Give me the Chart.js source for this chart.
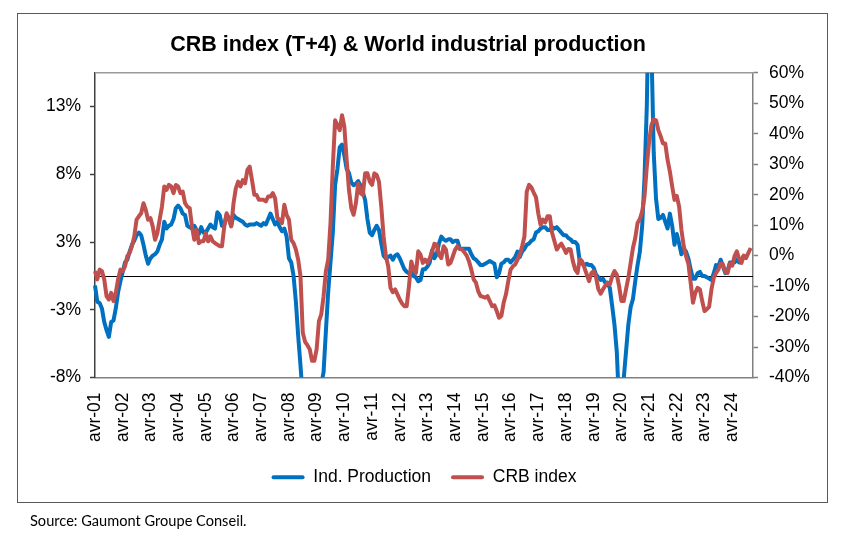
<!DOCTYPE html>
<html>
<head>
<meta charset="utf-8">
<script src="https://cdn.jsdelivr.net/npm/chart.js@4.4.1/dist/chart.umd.min.js"></script>
<style>
  html, body { margin: 0; padding: 0; background: #fff; }
  #wrap { position: relative; width: 864px; height: 539px; overflow: hidden; }
  #chart { position: absolute; left: 0; top: 0; }
  #frame { position: absolute; left: 17px; top: 13px; width: 811px; height: 490px;
           border: 1.5px solid #595959; box-sizing: border-box; pointer-events: none; }
  #source { position: absolute; left: 30px; top: 512px; font: 14.6px Lato, "Open Sans", sans-serif; color: #000; }
</style>
</head>
<body>
<div id="wrap">
  <canvas id="chart" width="864" height="539"></canvas>
  <div id="frame"></div>
  <div id="source">Source: Gaumont Groupe Conseil.</div>
</div>
<script>
// monthly categories, first month avr-01
const monthNames = ["janv", "févr", "mars", "avr", "mai", "juin", "juil", "août", "sept", "oct", "nov", "déc"];
const startYear = 2001, startMonth = 3, monthCount = 286;

// World industrial production, y/y % (left axis)
const indProduction = [
  -0.7, -1.9, -2.0, -2.4, -3.4, -4.0, -4.5, -3.4, -3.3, -2.4, -1.2, -0.4,
  0.3, 1.0, 1.2, 1.8, 2.3, 2.6, 3.0, 3.2, 3.0, 2.3, 1.5, 0.9,
  1.3, 1.5, 1.6, 1.8, 2.3, 2.7, 4.0, 3.5, 3.7, 3.8, 4.2, 5.0,
  5.2, 5.0, 4.6, 4.5, 3.7, 3.6, 3.5, 3.7, 3.4, 3.1, 3.6, 3.2,
  3.2, 3.5, 3.8, 3.6, 3.5, 4.7, 4.5, 3.7, 3.8, 4.5, 4.2, 3.7,
  4.5, 4.3, 4.2, 4.1, 4.0, 3.8, 3.7, 3.8, 3.8, 3.8, 3.9, 3.8,
  3.7, 3.9, 3.8, 4.2, 4.6, 4.2, 3.8, 4.0, 3.6, 3.3, 3.5, 2.9,
  1.3, 1.0, 0.0, -1.9, -4.4, -6.6, -9.0, -11.0, -13.0, -14.0, -13.0, -11.0,
  -9.5, -8.5, -8.0, -7.1, -4.1, -1.2, 1.0, 3.2, 6.7, 7.9, 9.5, 9.7,
  8.9, 7.9, 7.6, 6.9, 6.7, 6.8, 7.0, 6.7, 6.2, 5.6, 4.2, 3.2,
  3.0, 3.4, 3.7, 3.4, 2.4, 1.5, 1.3, 1.4, 1.5, 1.2, 1.5, 1.6,
  1.3, 0.9, 0.5, 0.3, 0.2, 0.3, 0.0, -0.1, -0.4, -0.3, 0.5, 0.5,
  0.7, 1.0, 1.9, 1.3, 1.6, 2.4, 2.9, 2.7, 2.6, 2.7, 2.7, 2.5,
  2.6, 2.6, 2.0, 2.0, 2.0, 2.0, 2.0, 1.6, 1.3, 1.2, 1.0, 0.8,
  0.8, 0.9, 1.0, 1.1, 1.0, 0.9, -0.1, 0.2, 0.9, 1.0, 1.2, 1.2,
  1.0, 1.2, 1.4, 1.8, 1.4, 1.8, 2.0, 2.3, 2.4, 2.6, 2.7, 3.2,
  3.3, 3.5, 3.6, 3.6, 3.4, 3.4, 3.6, 3.5, 3.6, 3.4, 3.2, 3.0,
  3.0, 2.8, 2.7, 2.5, 2.5, 2.3, 1.0, 0.9, 0.8, 0.9, 0.8, 0.8,
  0.6, 0.1, -0.1, -0.3, -0.2, -0.5, -0.5, -0.9, -2.2, -3.6, -5.6, -9.5,
  -11.0, -7.6, -5.6, -3.6, -2.3, -1.7, -0.4, 0.8, 1.8, 3.7, 7.2, 12.5,
  22.0, 17.0, 9.1, 5.7, 4.2, 4.3, 4.5, 4.0, 3.5, 4.6, 3.7, 2.3,
  3.1, 2.4, 1.6, 2.0, 1.8, 1.3, 0.5, -0.2, -0.2, 0.2, 0.3, 0.0,
  0.0, -0.1, -0.2, -0.3, 0.2, 0.8, 0.7, 1.2, 0.7, 0.2, 0.4, 1.0,
  1.0, 1.0, 1.2, 1.0, 1.2, 1.5
];

// CRB index y/y %, shifted 4 months ahead (right axis)
const crbIndex = [
  -5.1, -7.8, -4.6, -5.1, -7.8, -13.3, -14.4, -12.2, -14.9, -12.2, -7.8, -4.6,
  -5.1, -3.5, -0.2, 0.9, 3.1, 6.3, 11.8, 12.9, 13.9, 17.2, 15.0, 11.8,
  12.3, 9.6, 5.2, 7.4, 11.8, 16.1, 22.7, 21.6, 23.2, 22.7, 20.5, 23.2,
  22.7, 20.5, 21.0, 17.2, 16.1, 15.6, 9.6, 5.2, 8.5, 4.1, 4.7, 4.7,
  7.4, 4.7, 6.3, 4.7, 4.1, 3.6, 3.1, 3.1, 9.6, 13.9, 12.3, 9.6,
  17.2, 22.1, 24.3, 22.7, 24.8, 23.7, 28.1, 29.2, 24.8, 20.0, 19.9, 18.3,
  18.3, 18.3, 17.8, 19.4, 19.4, 20.5, 18.8, 12.3, 11.8, 10.7, 16.7, 13.4,
  11.8, 5.2, 4.1, 2.0, -1.3, -6.8, -25.3, -28.3, -29.4, -30.7, -34.5, -34.5,
  -30.7, -21.5, -19.3, -13.3, -5.1, -1.3, 10.7, 29.2, 44.4, 42.8, 41.2, 46.1,
  42.3, 31.4, 21.6, 15.6, 13.4, 17.2, 23.7, 20.5, 19.9, 27.0, 27.0, 24.3,
  23.2, 27.0, 26.5, 24.3, 16.1, 6.3, -0.2, -3.5, -10.6, -12.0, -11.1, -12.7,
  -14.4, -15.7, -16.6, -16.6, -10.0, -1.9, -4.6, -5.7, 1.4, 0.3, -2.4, -1.3,
  -2.4, -0.8, 1.4, 3.9, 3.6, 0.3, -0.8, 3.1, 2.0, -2.9, -2.4, -0.2,
  2.0, 3.1, 2.2, 2.0, 1.1, 0.0, -1.9, -4.6, -7.8, -8.9, -11.7, -13.3,
  -13.5, -13.8, -13.3, -14.9, -16.6, -16.3, -18.2, -20.4, -19.8, -15.5, -12.7, -8.4,
  -4.6, -3.5, -2.9, -1.3, 0.3, 3.1, 6.3, 21.0, 23.2, 22.4, 20.7, 19.2,
  13.9, 10.1, 11.8, 10.9, 12.9, 12.9, 7.4, 4.7, 2.0, 3.1, 3.9, 2.5,
  0.9, 2.2, 2.0, -1.9, -4.6, -5.7, -1.1, -1.9, -4.0, -6.2, -8.4, -5.7,
  -5.1, -7.0, -11.0, -12.5, -11.1, -9.9, -8.9, -9.5, -6.8, -5.1, -6.2, -10.0,
  -14.9, -14.9, -11.1, -7.3, -2.4, 2.5, 5.8, 10.7, 12.0, 14.5, 19.4, 29.2,
  37.4, 42.8, 44.7, 44.4, 41.2, 39.2, 36.8, 36.8, 31.4, 27.6, 22.7, 18.3,
  19.6, 16.1, 8.5, 3.1, -0.2, -2.6, -8.9, -15.5, -12.2, -10.6, -11.1, -14.9,
  -18.2, -17.6, -16.8, -11.1, -7.3, -5.7, -4.6, -2.6, -2.9, -5.4, -5.7, -2.6,
  -3.3, -0.2, 1.4, -1.1, -2.4, 0.0, -0.8, 0.9, 2.5
];

// left axis tick positions (shown rounded, as in the source sheet)
const leftTicks = [-7.5, -2.5, 2.5, 7.5, 12.5];

const categories = [];
for (let i = 0; i < monthCount; i++) {
  const m = (startMonth + i) % 12;
  const y = startYear + Math.floor((startMonth + i) / 12);
  categories.push(monthNames[m] + "-" + String(y % 100).padStart(2, "0"));
}

Chart.defaults.font.family = "'Liberation Sans', Arial, sans-serif";
Chart.defaults.color = "#000";

const frameLines = {
  id: "frameLines",
  afterLayout(chart) {
    // the sheet's title sits a little left of the plot centre
    chart.titleBlock.left -= 16;
    chart.titleBlock.right -= 16;
  },
  beforeDatasetsDraw(chart) {
    const { ctx, chartArea, scales } = chart;
    const y0 = scales.y.getPixelForValue(0);
    ctx.save();
    ctx.lineWidth = 1;
    ctx.strokeStyle = "#000";
    ctx.beginPath();
    ctx.moveTo(chartArea.left, Math.round(y0) + 0.5);
    ctx.lineTo(chartArea.right, Math.round(y0) + 0.5);
    ctx.stroke();
    ctx.strokeStyle = "#9a9a9a";
    ctx.lineWidth = 1.5;
    ctx.beginPath();
    ctx.moveTo(chartArea.left, chartArea.top);
    ctx.lineTo(chartArea.right, chartArea.top);
    ctx.stroke();
    ctx.restore();
  }
};

new Chart(document.getElementById("chart"), {
  type: "line",
  data: {
    labels: categories,
    datasets: [
      {
        label: "Ind. Production",
        data: indProduction,
        yAxisID: "y",
        borderColor: "#0070C0",
        backgroundColor: "#0070C0",
        borderWidth: 4,
        pointRadius: 0,
        tension: 0,
        borderJoinStyle: "round",
        order: 1
      },
      {
        label: "CRB index",
        data: crbIndex,
        yAxisID: "y2",
        borderColor: "#C0504D",
        backgroundColor: "#C0504D",
        borderWidth: 4,
        pointRadius: 0,
        tension: 0,
        borderJoinStyle: "round",
        order: 0
      }
    ]
  },
  options: {
    responsive: false,
    animation: false,
    layout: { padding: { top: 0, left: 0, right: 0, bottom: 43 } },
    plugins: {
      tooltip: { enabled: false },
      title: {
        display: true,
        text: "CRB index (T+4) & World industrial production",
        fullSize: false,
        font: { size: 21.5, weight: "bold" },
        color: "#000",
        padding: { top: 32, bottom: 15 }
      },
      legend: {
        position: "bottom",
        fullSize: false,
        labels: {
          boxWidth: 33,
          boxHeight: 4,
          padding: 20,
          font: { size: 17.5 },
          color: "#000",
          generateLabels(chart) {
            const items = Chart.defaults.plugins.legend.labels.generateLabels(chart);
            items.forEach(it => { it.lineWidth = 0; it.fillStyle = it.strokeStyle; it.borderRadius = 2; });
            return items.sort((a, b) => a.datasetIndex - b.datasetIndex);
          }
        }
      }
    },
    scales: {
      x: {
        type: "category",
        offset: false,
        grid: { display: false },
        border: { color: "#808080", width: 1.5 },
        ticks: {
          autoSkip: false,
          minRotation: 90,
          maxRotation: 90,
          padding: 7,
          font: { size: 17.5 },
          color: "#000",
          callback(value) {
            const lab = this.getLabelForValue(value);
            return lab.startsWith("avr") ? lab : "";
          }
        },
        afterFit(scale) { scale.height = 71; }
      },
      y: {
        position: "left",
        min: -7.5,
        max: 15,
        grid: { drawOnChartArea: false, tickLength: 5, tickColor: "#404040", tickWidth: 1.5 },
        border: { color: "#404040", width: 1.5 },
        afterBuildTicks(scale) { scale.ticks = leftTicks.map(v => ({ value: v })); },
        ticks: {
          padding: 9,
          font: { size: 17.5 },
          color: "#000",
          callback: v => v.toFixed(0) + "%"
        },
        afterFit(scale) { scale.width = 95; }
      },
      y2: {
        position: "right",
        min: -40,
        max: 60,
        grid: { drawOnChartArea: false, tickLength: 5, tickColor: "#808080", tickWidth: 1.5 },
        border: { color: "#808080", width: 1.5 },
        ticks: {
          stepSize: 10,
          padding: 11,
          font: { size: 17.5 },
          color: "#000",
          callback: v => v + "%"
        },
        afterFit(scale) { scale.width = 111; }
      }
    }
  },
  plugins: [frameLines]
});
</script>
</body>
</html>
